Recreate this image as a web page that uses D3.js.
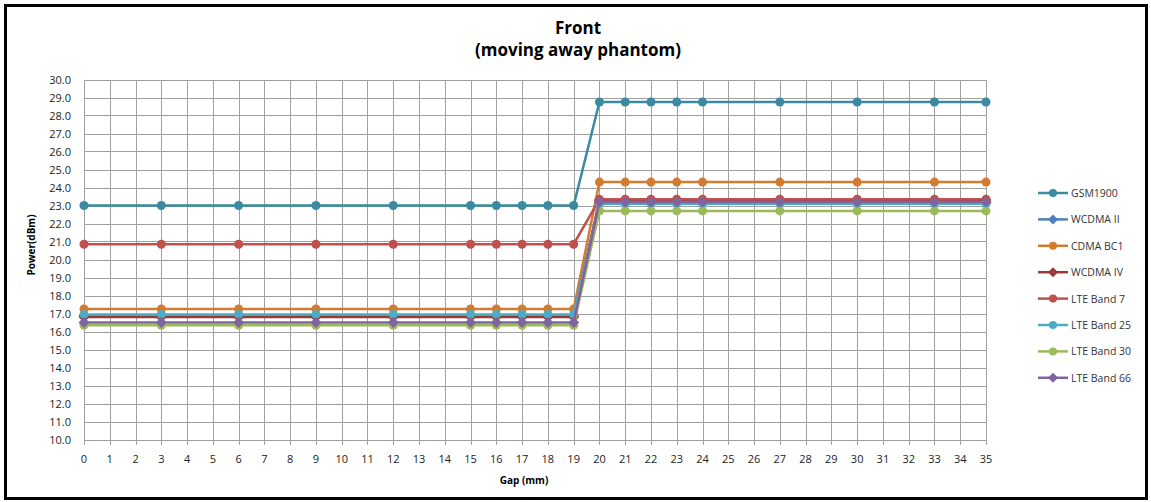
<!DOCTYPE html>
<html lang="en">
<head>
<meta charset="utf-8">
<title>Front (moving away phantom)</title>
<style>
body { margin: 0; background: #fff; font-family: "Open Sans", Arial, sans-serif; }

.grid line {
    stroke: #a0a0a0;
    stroke-width: 1;
    shape-rendering: crispEdges;
}

.axis text {
    font-size: 11px;
    fill: #222;
}

.legend text {
    font-size: 10.5px;
    fill: #333;
}
</style>
</head>
<body>

<script src="https://d3js.org/d3.v7.min.js"></script>
<script>

// gap positions measured (mm)
var gaps = [0, 3, 6, 9, 12, 15, 16, 17, 18, 19, 20, 21, 22, 23, 24, 27, 30, 33, 35];

// each series: 10 values up to 19 mm, then 9 values from 20 mm on
var gsm1900   = [23.0, 23.0, 23.0, 23.0, 23.0, 23.0, 23.0, 23.0, 23.0, 23.0, 28.75, 28.75, 28.75, 28.75, 28.75, 28.75, 28.75, 28.75, 28.75];
var wcdma2    = [16.9, 16.9, 16.9, 16.9, 16.9, 16.9, 16.9, 16.9, 16.9, 16.9, 23.15, 23.15, 23.15, 23.15, 23.15, 23.15, 23.15, 23.15, 23.15];
var cdmaBC1   = [17.25, 17.25, 17.25, 17.25, 17.25, 17.25, 17.25, 17.25, 17.25, 17.25, 24.3, 24.3, 24.3, 24.3, 24.3, 24.3, 24.3, 24.3, 24.3];
var wcdma4    = [16.8, 16.8, 16.8, 16.8, 16.8, 16.8, 16.8, 16.8, 16.8, 16.8, 23.3, 23.3, 23.3, 23.3, 23.3, 23.3, 23.3, 23.3, 23.3];
var lteBand7  = [20.85, 20.85, 20.85, 20.85, 20.85, 20.85, 20.85, 20.85, 20.85, 20.85, 23.35, 23.35, 23.35, 23.35, 23.35, 23.35, 23.35, 23.35, 23.35];
var lteBand25 = [16.95, 16.95, 16.95, 16.95, 16.95, 16.95, 16.95, 16.95, 16.95, 16.95, 23.1, 23.1, 23.1, 23.1, 23.1, 23.1, 23.1, 23.1, 23.1];
var lteBand30 = [16.35, 16.35, 16.35, 16.35, 16.35, 16.35, 16.35, 16.35, 16.35, 16.35, 22.7, 22.7, 22.7, 22.7, 22.7, 22.7, 22.7, 22.7, 22.7];
var lteBand66 = [16.5, 16.5, 16.5, 16.5, 16.5, 16.5, 16.5, 16.5, 16.5, 16.5, 23.2, 23.2, 23.2, 23.2, 23.2, 23.2, 23.2, 23.2, 23.2];

var seriesNames = ["GSM1900", "WCDMA II", "CDMA BC1", "WCDMA IV", "LTE Band 7", "LTE Band 25", "LTE Band 30", "LTE Band 66"];
var seriesValues = [gsm1900, wcdma2, cdmaBC1, wcdma4, lteBand7, lteBand25, lteBand30, lteBand66];

var xTicks = d3.range(0, 36);
var yTicks = d3.range(10, 31);

var colors = ["#3a8ba1", "#4f7fbf", "#d57b30", "#973a38", "#c0504d", "#4bacc6", "#9bbb59", "#8064a2"];
var shapes = ["circle", "diamond", "circle", "diamond", "circle", "circle", "circle", "diamond"];

var W = 1151, H = 502;

var x = d3.scaleLinear().domain([0, 35]).range([84, 986]);
var y = d3.scaleLinear().domain([10, 30]).range([439.5, 79.5]);

var svg = d3.select("body")
    .append("svg")
        .attr("width", W)
        .attr("height", H);

// outer frame
svg.append("rect")
    .attr("x", 5.5).attr("y", 5.5)
    .attr("width", 1141).attr("height", 493)
    .attr("fill", "#fff")
    .attr("stroke", "#000")
    .attr("stroke-width", 3);

// title
svg.append("text")
    .attr("x", 578).attr("y", 34)
    .attr("text-anchor", "middle")
    .style("font-size", "17px").style("font-weight", "bold")
    .text("Front");
svg.append("text")
    .attr("x", 578).attr("y", 56)
    .attr("text-anchor", "middle")
    .style("font-size", "17px").style("font-weight", "bold")
    .text("(moving away phantom)");

// grid
var grid = svg.append("g").attr("class", "grid");
grid.selectAll(".hl").data(yTicks).enter().append("line")
    .attr("x1", x(0)).attr("x2", x(35))
    .attr("y1", d => Math.round(y(d)) + 0.5)
    .attr("y2", d => Math.round(y(d)) + 0.5);
grid.selectAll(".vl").data(xTicks).enter().append("line")
    .attr("x1", d => Math.round(x(d)) + 0.5)
    .attr("x2", d => Math.round(x(d)) + 0.5)
    .attr("y1", y(30)).attr("y2", y(10) + 5);

// y axis labels
svg.append("g")
    .attr("class", "axis")
    .selectAll("text").data(yTicks).enter().append("text")
    .attr("x", 71)
    .attr("y", d => y(d) + 4)
    .attr("text-anchor", "end")
    .text(d => d.toFixed(1));

// x axis labels
svg.append("g")
    .attr("class", "axis")
    .selectAll("text").data(xTicks).enter().append("text")
    .attr("x", d => x(d))
    .attr("y", 463)
    .attr("text-anchor", "middle")
    .text(d => d);

// axis titles
svg.append("text")
    .attr("transform", "translate(35,245) rotate(-90)")
    .attr("text-anchor", "middle")
    .style("font-size", "10px").style("font-weight", "bold")
    .text("Power(dBm)");
svg.append("text")
    .attr("x", 524).attr("y", 484)
    .attr("text-anchor", "middle")
    .style("font-size", "10px").style("font-weight", "bold")
    .text("Gap (mm)");

var line = d3.line()
    .x(d => x(d[0]))
    .y(d => y(d[1]));

// circle or square diamond marker, r = half size
function marker(sel, shape, color, r) {
    if (shape == "diamond") {
        sel.append("path")
            .attr("d", "M0," + (-r - 1) + "L" + (r + 1) + ",0L0," + (r + 1) + "L" + (-r - 1) + ",0Z")
            .attr("fill", color);
    } else {
        sel.append("circle")
            .attr("r", r)
            .attr("fill", color);
    }
}

seriesValues.forEach(function(vals, i) {
    var pts = gaps.map((g, j) => [g, vals[j]]);
    var g = svg.append("g");
    g.append("path")
        .attr("d", line(pts))
        .attr("fill", "none")
        .attr("stroke", colors[i])
        .attr("stroke-width", 2.5);
    g.selectAll(".pt").data(pts).enter().append("g")
        .attr("transform", d => "translate(" + x(d[0]) + "," + y(d[1]) + ")")
        .each(function() { marker(d3.select(this), shapes[i], colors[i], 4.5); });
});

// legend
var legend = svg.append("g").attr("class", "legend");
seriesNames.forEach(function(name, i) {
    var ly = 193 + i * 26.4;
    legend.append("line")
        .attr("x1", 1038).attr("x2", 1068)
        .attr("y1", ly).attr("y2", ly)
        .attr("stroke", colors[i]).attr("stroke-width", 2.5);
    var m = legend.append("g").attr("transform", "translate(1053," + ly + ")");
    marker(m, shapes[i], colors[i], 4);
    legend.append("text")
        .attr("x", 1071).attr("y", ly + 4)
        .text(name);
});

</script>
</body>
</html>
